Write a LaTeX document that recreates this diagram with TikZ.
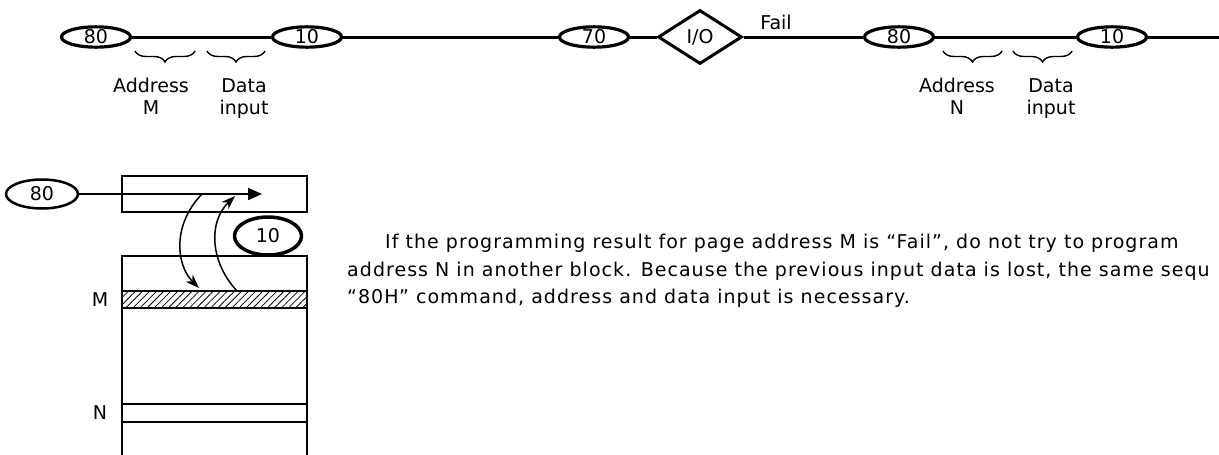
\documentclass[tikz,border=0pt]{standalone}
\usepackage{fontspec}
\setmainfont{DejaVu Sans}
\newfontfamily\notefont[LetterSpace=5.5]{DejaVu Sans}
\usetikzlibrary{shapes.geometric,arrows.meta,decorations.pathreplacing,patterns.meta}
\begin{document}
\begin{tikzpicture}[x=1pt,y=-1pt,
  every node/.style={font=\fontsize{19}{22}\selectfont},
  cmd/.style={draw,ellipse,line width=3.2pt,minimum width=69pt,minimum height=18pt,inner sep=0pt},
  brc/.style={decorate,decoration={brace,mirror,amplitude=11pt},line width=1.4pt},
  lbl/.style={align=center,anchor=north,inner sep=0pt},
  note/.style={anchor=base west,inner sep=0pt,font=\fontsize{19}{22}\notefont},
  thin/.style={line width=1.5pt}]
\useasboundingbox (0,0) rectangle (1219,455);
% command sequence
\node[cmd] (a80) at (96,37) {80};
\node[cmd] (a10) at (307,37) {10};
\node[cmd] (a70) at (594,37) {70};
\node[draw,diamond,line width=3pt,minimum width=84pt,minimum height=54pt,inner sep=0pt] (io) at (700,37) {I/O};
\node[cmd] (b80) at (899,37) {80};
\node[cmd] (b10) at (1112,37) {10};
\coordinate (rend) at (1219,37);
\draw[line width=3pt] (a80) -- (a10) -- (a70) -- (io) -- (b80) -- (b10) -- (rend);
\node[anchor=base] (fail) at (776,30) {Fail};
\draw[brc] (135,51) -- (195,51);
\draw[brc] (207,51) -- (265,51);
\draw[brc] (943,51) -- (1002,51);
\draw[brc] (1013,51) -- (1072,51);
\node[lbl] (addrM) at (151,78) {Address\\M};
\node[lbl] (dinM) at (244,78) {Data\\input};
\node[lbl] (addrN) at (957,78) {Address\\N};
\node[lbl] (dinN) at (1051,78) {Data\\input};
% page buffer and cell array
\node[draw,ellipse,line width=2.5pt,minimum width=72pt,minimum height=29pt,inner sep=0pt] (c80) at (42,194) {80};
\node[draw,thin,minimum width=185pt,minimum height=36pt,inner sep=0pt] (reg) at (214.5,194) {};
\coordinate (regtip) at (262,194);
\draw[thin,-{Triangle[length=14pt,width=12pt]}] (c80) -- (regtip);
\node[draw,ellipse,line width=3.5pt,minimum width=67pt,minimum height=38pt,inner sep=0pt] (c10) at (268,236) {10};
\draw[thin] (122,455) -- (122,256) -- (307,256) -- (307,455);
\draw[line width=2pt,pattern={Lines[angle=45,distance=5pt,line width=0.8pt]}] (122,291) rectangle (307,308);
\draw[line width=2pt] (122,404) rectangle (307,422);
\node (pgM) at (100,300) {M};
\node (pgN) at (100,413) {N};
\coordinate (rdA) at (202,194);
\coordinate (rdB) at (199,288);
\coordinate (wrA) at (237,291);
\coordinate (wrB) at (235,196);
\draw[thin,-{Stealth[length=14pt,width=10pt]}] (rdA) .. controls (172,225) and (176,265) .. (rdB);
\draw[thin,-{Stealth[length=14pt,width=10pt]}] (wrA) .. controls (210,262) and (208,222) .. (wrB);
% note
\node[note] (ln1) at (385,248) {If the programming result for page address M is “Fail”, do not try to program};
\node[note] (ln2) at (347,276) {address N in another block. Because the previous input data is lost, the same sequ};
\node[note] (ln3) at (347,303) {“80H” command, address and data input is necessary.};
\end{tikzpicture}
\end{document}
